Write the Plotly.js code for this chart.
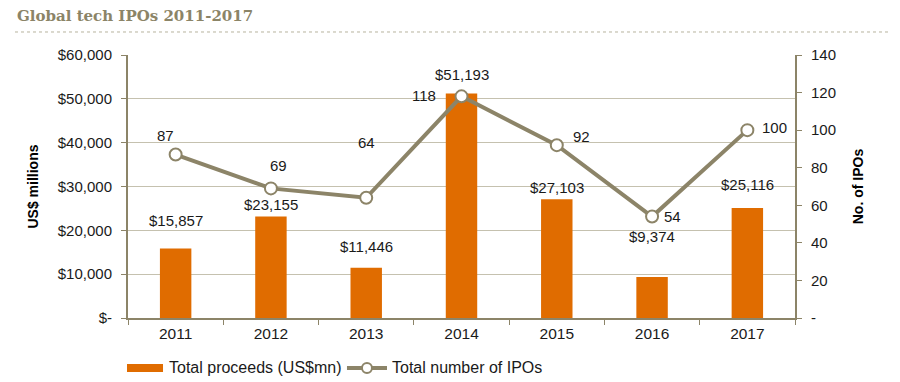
<!DOCTYPE html>
<html>
<head>
<meta charset="utf-8">
<script src="https://cdn.plot.ly/plotly-3.0.1.min.js"></script>
<style>html,body{margin:0;padding:0;background:#fff;}#chart{width:900px;height:382px;}</style>
</head>
<body>
<div id="chart"></div>
<script>
var years = [2011, 2012, 2013, 2014, 2015, 2016, 2017];
var yearLabels = ["2011","2012","2013","2014","2015","2016","2017"];
var proceeds = [15857, 23155, 11446, 51193, 27103, 9374, 25116];
var ipoCount = [87, 69, 64, 118, 92, 54, 100];
var proceedsLabels = ["$15,857","$23,155","$11,446","$51,193","$27,103","$9,374","$25,116"];
var countLabels = ["87","69","64","118","92","54","100"];
var leftTickVals = [0,10000,20000,30000,40000,50000,60000];
var leftTickText = ["$-","$10,000","$20,000","$30,000","$40,000","$50,000","$60,000"];
var rightTickVals = [0,20,40,60,80,100,120,140];
var rightTickText = ["-","20","40","60","80","100","120","140"];
var seriesNames = ["Total proceeds (US$mn)", "Total number of IPOs"];

// label offsets (pixels) — styling only
var barLabelShift = [28,12,21,19,12,40,23];
var lineLabelXShift = [-10,8,0,-38,25,20,27];
var lineLabelYShift = [19,23,55,1,9,0,3];

var olive = "#8c8468";
var orange = "#e06c00";
var font = "Liberation Sans, Arial, sans-serif";

var barTrace = {
  type: "bar", x: years, y: proceeds, name: seriesNames[0],
  marker: {color: orange}, width: 0.33, yaxis: "y", showlegend: false
};
var lineTrace = {
  type: "scatter", mode: "lines+markers", x: years, y: ipoCount, name: seriesNames[1],
  yaxis: "y2", line: {color: olive, width: 4}, showlegend: false,
  marker: {size: 12, color: "#ffffff", line: {color: olive, width: 2}}
};

var annotations = [];
for (var i = 0; i < years.length; i++) {
  annotations.push({x: years[i], y: proceeds[i], xref: "x", yref: "y", text: proceedsLabels[i],
    showarrow: false, yanchor: "middle", yshift: barLabelShift[i], font: {family: font, size: 15, color: "#1a1a1a"}});
  annotations.push({x: years[i], y: ipoCount[i], xref: "x", yref: "y2", text: countLabels[i],
    showarrow: false, yanchor: "middle", xshift: lineLabelXShift[i], yshift: lineLabelYShift[i], font: {family: font, size: 15, color: "#1a1a1a"}});
}
annotations.push({xref: "paper", yref: "paper", x: -0.1694, y: 1.147, xanchor: "left", yanchor: "middle",
  text: "<b>Global tech IPOs 2011-2017</b>", showarrow: false,
  font: {family: "DejaVu Serif, Georgia, serif", size: 15, color: "#8b8467"}});
// legend texts
annotations.push({xref: "paper", yref: "paper", x: 0.058, y: -0.1901, xanchor: "left", yanchor: "middle",
  text: seriesNames[0], showarrow: false, font: {family: font, size: 16, color: "#1a1a1a"}});
annotations.push({xref: "paper", yref: "paper", x: 0.3928, y: -0.1901, xanchor: "left", yanchor: "middle",
  text: seriesNames[1], showarrow: false, font: {family: font, size: 16, color: "#1a1a1a"}});

var layout = {
  width: 900, height: 382,
  margin: {l: 128, r: 105, t: 55, b: 64},
  paper_bgcolor: "#ffffff", plot_bgcolor: "#ffffff",
  font: {family: font, size: 15, color: "#1a1a1a"},
  showlegend: false,
  xaxis: {type: "linear", range: [2010.5, 2017.5], tickvals: years, ticktext: yearLabels, ticks: "",
    showline: true, linecolor: olive, linewidth: 2, showgrid: false, zeroline: false,
    tickfont: {family: font, size: 15.5, color: "#1a1a1a"},
    minor: {tickmode: "linear", tick0: 2010.5, dtick: 1, ticks: "outside", ticklen: 5, tickcolor: olive, showgrid: false}},
  yaxis: {range: [0, 60000], tickvals: leftTickVals, ticktext: leftTickText, showline: true, linecolor: olive, linewidth: 2,
    ticks: "outside", ticklen: 5, tickcolor: olive, showgrid: true, gridcolor: "#c5c1af", gridwidth: 1, zeroline: false,
    tickfont: {family: font, size: 15, color: "#1a1a1a"}, ticklabelstandoff: 6,
    title: {text: "<b>US$ millions</b>", font: {family: font, size: 14, color: "#000"}, standoff: 16}},
  yaxis2: {range: [0, 140], overlaying: "y", side: "right", tickvals: rightTickVals, ticktext: rightTickText,
    showline: true, linecolor: olive, linewidth: 2, ticks: "outside", ticklen: 5, tickcolor: olive, showgrid: false, zeroline: false,
    tickfont: {family: font, size: 15, color: "#1a1a1a"}, ticklabelstandoff: 6,
    title: {text: "<b>No. of IPOs</b>", font: {family: font, size: 14, color: "#000"}, standoff: 18}},
  annotations: annotations,
  shapes: [
    {type: "line", xref: "paper", yref: "paper", x0: -0.1694, x1: 1.1424, y0: 1.0875, y1: 1.0875,
      line: {color: "#b8b39e", width: 1, dash: "dot"}},
    {type: "rect", xref: "paper", yref: "paper", x0: -0.0015, x1: 0.0525, y0: -0.2053, y1: -0.1749,
      fillcolor: orange, line: {width: 0}},
    {type: "line", xref: "paper", yref: "paper", x0: 0.3283, x1: 0.3883, y0: -0.1901, y1: -0.1901,
      line: {color: olive, width: 4}},
    {type: "circle", xref: "paper", yref: "paper", x0: 0.3508, x1: 0.3658, y0: -0.2091, y1: -0.1711,
      fillcolor: "#ffffff", line: {color: olive, width: 2}}
  ]
};

Plotly.newPlot("chart", [barTrace, lineTrace], layout, {displayModeBar: false, staticPlot: true});
</script>
</body>
</html>
